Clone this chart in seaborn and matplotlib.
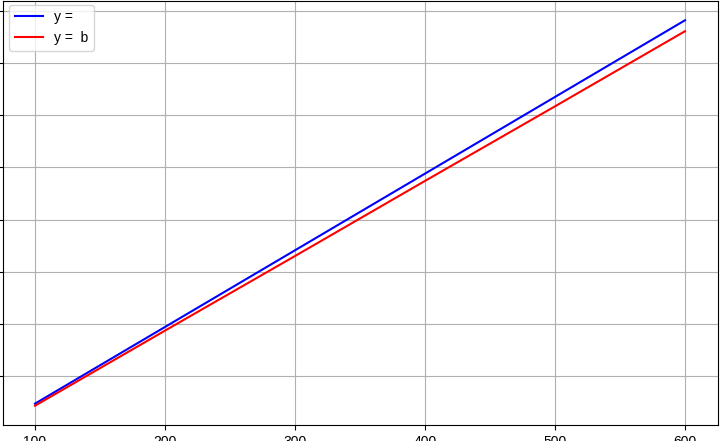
import matplotlib
matplotlib.use("Agg")
import matplotlib.pyplot as plt
import seaborn as sns

# -------------------------------
# Data
# -------------------------------
x_vals = [100, 200, 300, 400, 500, 600]
blue_vals = [147, 294, 441, 588, 735, 882]
red_vals = [143, 287, 430, 574, 717, 861]
labels = ["y = ", "y =  b"]
y_ticks = [200, 300, 400, 500, 600, 700, 800, 900]

plt.rcParams["font.family"] = ["Liberation Sans", "DejaVu Sans"]

# -------------------------------
# Plot
# -------------------------------
fig = plt.figure(figsize=(7.2, 4.41), dpi=100)
ax = fig.add_axes([2.5 / 720, 16 / 441, 715 / 720, 424 / 441])

sns.lineplot(x=x_vals, y=blue_vals, color="blue", label=labels[0], ax=ax)
sns.lineplot(x=x_vals, y=red_vals, color="red", label=labels[1], ax=ax)

ax.set_yticks(y_ticks)
ax.grid(True)
ax.legend(loc="upper left", bbox_to_anchor=(0, 1.008))

fig.savefig("out.png", dpi=100)
